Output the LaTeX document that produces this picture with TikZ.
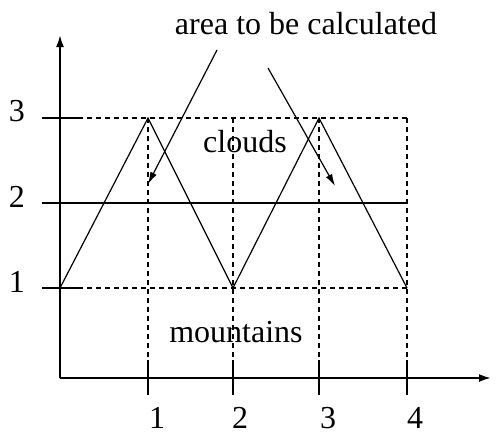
\documentclass[tikz,border=0pt]{standalone}
\usepackage{fontspec}
\setmainfont{Liberation Serif}
\usetikzlibrary{arrows.meta}
\tikzset{
  axis/.style={line width=1pt,-{Latex[length=6pt,width=4pt]}},
  thin/.style={line width=0.6pt},
  grid/.style={line width=0.6pt,dash pattern=on 2.5pt off 2pt},
  callout/.style={line width=0.6pt,-{Latex[length=6pt,width=3.5pt]}},
  lbl/.style={font=\fontsize{16}{18}\selectfont,inner sep=0pt}
}
\begin{document}
\begin{tikzpicture}[x=0.5pt,y=-0.5pt]
\useasboundingbox (0,0) rectangle (498,439);
% named points
\coordinate (O) at (60,378);
\coordinate (ytop) at (60,35);
\coordinate (xend) at (491,378);
\coordinate (p0) at (60,288);
\coordinate (p1) at (148,118);
\coordinate (p2) at (233,288);
\coordinate (p3) at (319,118);
\coordinate (p4) at (407,288);
% grid
\draw[grid] (78,118) -- (407,118);
\draw[grid] (78,288) -- (407,288);
\foreach \x in {148,233,319,407} \draw[grid] (\x,118) -- (\x,360);
% axes
\draw[axis] (O) -- (ytop);
\draw[axis] (O) -- (xend);
% y ticks
\draw[thin] (42,118) -- (78,118);
\draw[thin] (42,288) -- (78,288);
\draw[thin] (42,203) -- (407,203);
% x ticks
\foreach \x in {148,233,319,407} \draw[thin] (\x,360) -- (\x,395);
% triangle wave
\draw[thin] (p0) -- (p1) -- (p2) -- (p3) -- (p4);
% labels
\node[lbl] (y3) at (17,111) {3};
\node[lbl] (y2) at (17,197) {2};
\node[lbl] (y1) at (17,282) {1};
\node[lbl] (x1) at (157,418) {1};
\node[lbl] (x2) at (240,418) {2};
\node[lbl] (x3) at (328,418) {3};
\node[lbl] (x4) at (415,418) {4};
\node[lbl] (title) at (306,24) {area to be calculated};
\node[lbl] (clouds) at (245,142) {clouds};
\node[lbl] (mount) at (236,332) {mountains};
% callout arrows
\coordinate (a1s) at (217,50);
\coordinate (a1e) at (148,184);
\coordinate (a2s) at (268,68);
\coordinate (a2e) at (335,186);
\draw[callout] (a1s) -- (a1e);
\draw[callout] (a2s) -- (a2e);
\end{tikzpicture}
\end{document}
